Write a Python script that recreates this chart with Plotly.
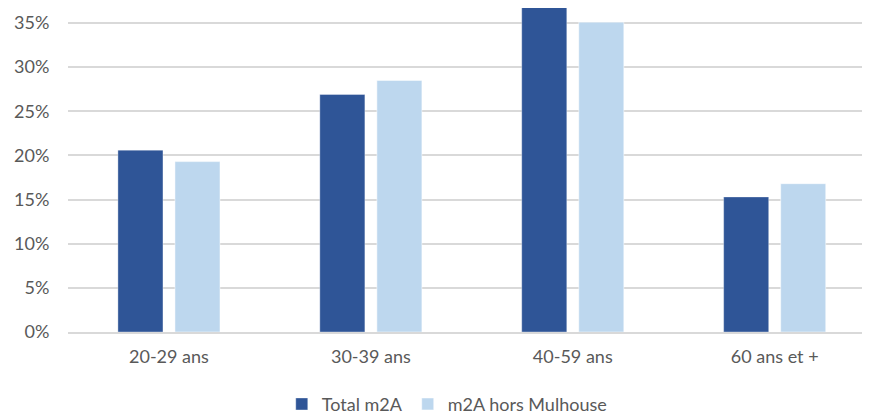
import plotly.graph_objects as go

categories = ["20-29 ans", "30-39 ans", "40-59 ans", "60 ans et +"]
total_m2a = [0.206, 0.269, 0.368, 0.153]
hors_mulhouse = [0.193, 0.285, 0.351, 0.168]
series_names = ["Total m2A", "m2A hors Mulhouse"]
y_ticks = [0, 0.05, 0.10, 0.15, 0.20, 0.25, 0.30, 0.35]

FONT = "Lato"
TXT = "#595959"
GRID = "#d9d9d9"

fig = go.Figure()
fig.add_trace(go.Bar(x=categories, y=total_m2a, name=series_names[0], cliponaxis=False,
                     marker=dict(color="#2F5597", line=dict(color="rgba(255,255,255,0.35)", width=1))))
fig.add_trace(go.Bar(x=categories, y=hors_mulhouse, name=series_names[1], cliponaxis=False,
                     marker=dict(color="#BDD7EE", line=dict(color="rgba(255,255,255,0.5)", width=1))))

# page body has an 8px margin: figure is sized/offset to compensate
fig.update_layout(
    width=862, height=406,
    margin=dict(l=60, r=0, t=0, b=82, autoexpand=False),
    paper_bgcolor="white", plot_bgcolor="white",
    barmode="group", bargap=0.435, bargroupgap=0.21,
    font=dict(family=FONT, size=18, color=TXT),
    showlegend=True,
    legend=dict(orientation="h", xref="container", yref="container",
                x=0.509, y=0.024, xanchor="center", yanchor="middle",
                font=dict(family=FONT, size=18, color=TXT),
                itemwidth=30, tracegroupgap=0),
    xaxis=dict(range=[-0.5, 3.472], showgrid=False, showline=True, automargin=False,
               linecolor=GRID, linewidth=1.5, ticks="outside", ticklen=8,
               tickcolor="rgba(0,0,0,0)", tickfont=dict(family=FONT, size=18, color=TXT)),
    yaxis=dict(range=[0, 0.367], tickvals=y_ticks, tickformat=".0%", automargin=False,
               showgrid=True, gridcolor=GRID, gridwidth=1.5,
               zeroline=False, showline=False, ticks="outside", ticklen=14,
               tickcolor="rgba(0,0,0,0)", tickfont=dict(family=FONT, size=18, color=TXT)),
)

fig.write_html("out.html")
